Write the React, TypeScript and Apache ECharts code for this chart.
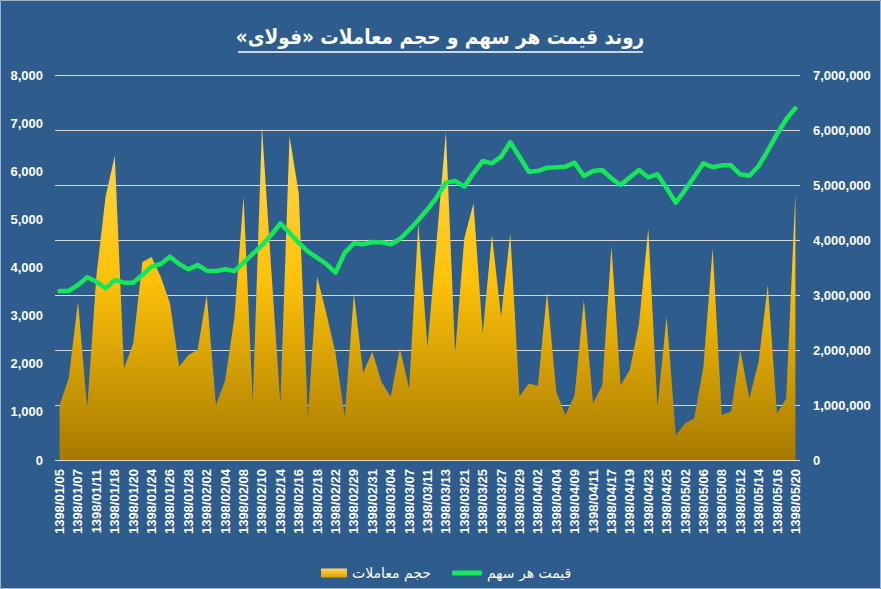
import React, { useEffect, useRef } from "react";
import * as echarts from "echarts";

const dates: string[] = [
  "1398/01/05", "1398/01/06", "1398/01/07", "1398/01/10", "1398/01/11", "1398/01/17", "1398/01/18", "1398/01/19", "1398/01/20", "1398/01/21",
  "1398/01/24", "1398/01/25", "1398/01/26", "1398/01/27", "1398/01/28", "1398/01/31", "1398/02/02", "1398/02/03", "1398/02/04", "1398/02/07",
  "1398/02/08", "1398/02/09", "1398/02/10", "1398/02/11", "1398/02/14", "1398/02/15", "1398/02/16", "1398/02/17", "1398/02/18", "1398/02/21",
  "1398/02/22", "1398/02/28", "1398/02/29", "1398/02/30", "1398/02/31", "1398/03/01", "1398/03/04", "1398/03/05", "1398/03/07", "1398/03/08",
  "1398/03/11", "1398/03/12", "1398/03/13", "1398/03/18", "1398/03/21", "1398/03/22", "1398/03/25", "1398/03/26", "1398/03/27", "1398/03/28",
  "1398/03/29", "1398/04/01", "1398/04/02", "1398/04/03", "1398/04/04", "1398/04/08", "1398/04/09", "1398/04/10", "1398/04/11", "1398/04/15",
  "1398/04/17", "1398/04/18", "1398/04/19", "1398/04/22", "1398/04/23", "1398/04/24", "1398/04/25", "1398/04/29", "1398/05/02", "1398/05/05",
  "1398/05/06", "1398/05/07", "1398/05/08", "1398/05/09", "1398/05/12", "1398/05/13", "1398/05/14", "1398/05/15", "1398/05/16", "1398/05/19",
  "1398/05/20",
];

// price per share (left axis)
const price: number[] = [
  3512, 3512, 3637, 3796, 3706, 3567, 3740, 3685, 3685, 3844,
  4017, 4073, 4225, 4073, 3962, 4052, 3934, 3927, 3962, 3927,
  4100, 4281, 4461, 4675, 4918, 4724, 4516, 4329, 4204, 4073,
  3895, 4308, 4503, 4482, 4530, 4524, 4482, 4592, 4779, 4987,
  5209, 5459, 5763, 5798, 5680, 5957, 6213, 6165, 6303, 6601,
  6303, 5991, 6005, 6074, 6082, 6095, 6178, 5901, 6005, 6026,
  5853, 5715, 5874, 6026, 5874, 5936, 5645, 5347, 5611, 5887,
  6165, 6082, 6123, 6123, 5936, 5908, 6109, 6428, 6774, 7080,
  7308,
];

// trading volume (right axis)
const volume: number[] = [
  1000000, 1490000, 2880000, 940000, 3350000, 4790000, 5530000, 1670000, 2120000, 3600000,
  3690000, 3330000, 2850000, 1700000, 1910000, 2000000, 3000000, 1000000, 1450000, 2580000,
  4790000, 1060000, 6060000, 3500000, 1030000, 5890000, 4850000, 790000, 3330000, 2670000,
  1940000, 790000, 3030000, 1580000, 1970000, 1420000, 1150000, 2030000, 1300000, 4300000,
  2060000, 4000000, 5970000, 1940000, 4030000, 4670000, 2300000, 4090000, 2610000, 4120000,
  1150000, 1390000, 1350000, 3060000, 1240000, 820000, 1180000, 2910000, 1030000, 1360000,
  3880000, 1360000, 1640000, 2480000, 4210000, 970000, 2610000, 450000, 670000, 760000,
  1700000, 3850000, 820000, 880000, 2000000, 1120000, 1790000, 3180000, 850000, 1120000,
  4850000,
];

const titleText = "روند قیمت هر سهم و حجم معاملات «فولای»";
const volumeName = "حجم معاملات";
const priceName = "قیمت هر سهم";

export default function App() {
  const ref = useRef<HTMLDivElement>(null);

  useEffect(() => {
    if (!ref.current) return;
    const chart = echarts.init(ref.current, undefined, { renderer: "svg" });
    const fmt = (v: number) => v.toLocaleString("en-US");
    const areaGrad = new echarts.graphic.LinearGradient(0, 0, 0, 1, [
      { offset: 0, color: "#FFD84F" },
      { offset: 0.45, color: "#FFC20A" },
      { offset: 1, color: "#A67A00" },
    ]);
    const legendGrad = new echarts.graphic.LinearGradient(0, 0, 0, 1, [
      { offset: 0, color: "#FFD84F" },
      { offset: 1, color: "#D9A000" },
    ]);
    const numFont = "Liberation Sans";
    chart.setOption({
      animation: false,
      backgroundColor: "#2E5C8C",
      grid: { left: 55, right: 81, top: 75, bottom: 129, containLabel: false },
      graphic: [
        {
          type: "rect",
          shape: { x: 0.5, y: 0.5, width: 880, height: 588 },
          style: { fill: "none", stroke: "#9FB3C9", lineWidth: 1 },
          silent: true,
        },
        {
          type: "text",
          x: 440,
          y: 37,
          style: {
            text: "\u202B" + titleText + "\u202C",
            fill: "#FFFFFF",
            font: 'bold 20.5px "DejaVu Sans Condensed", "DejaVu Sans"',
            align: "center",
            verticalAlign: "middle",
          },
        },
        {
          type: "line",
          shape: { x1: 238, y1: 52, x2: 643, y2: 52 },
          style: { stroke: "#FFFFFF", lineWidth: 1.5 },
        },
      ],
      legend: [
        {
          data: [{ name: volumeName, icon: "rect", itemStyle: { color: legendGrad } }],
          left: 316,
          top: 561,
          itemWidth: 26,
          itemHeight: 9,
          textStyle: { color: "#FFFFFF", fontSize: 14, fontFamily: "DejaVu Sans" },
          selectedMode: false,
        },
        {
          data: [{ name: priceName, icon: "roundRect" }],
          left: 447,
          top: 561,
          itemWidth: 30,
          itemHeight: 5,
          textStyle: { color: "#FFFFFF", fontSize: 14, fontFamily: "DejaVu Sans" },
          selectedMode: false,
        },
      ],
      xAxis: {
        type: "category",
        data: dates,
        boundaryGap: true,
        axisLine: { show: false },
        axisTick: { show: false },
        axisLabel: {
          interval: 1,
          rotate: 90,
          color: "#FFFFFF",
          fontWeight: "bold",
          fontSize: 13,
          fontFamily: numFont,
          margin: 9,
        },
        splitLine: { show: false },
      },
      yAxis: [
        {
          type: "value",
          min: 0,
          max: 8000,
          interval: 1000,
          axisLine: { show: false },
          axisTick: { show: false },
          splitLine: { show: false },
          axisLabel: {
            color: "#FFFFFF",
            fontWeight: "bold",
            fontSize: 13,
            fontFamily: numFont,
            margin: 12,
            formatter: fmt,
          },
        },
        {
          type: "value",
          min: 0,
          max: 7000000,
          interval: 1000000,
          position: "right",
          axisLine: { show: false },
          axisTick: { show: false },
          splitLine: { show: true, lineStyle: { color: "#D9D9D9", width: 1 } },
          axisLabel: {
            color: "#FFFFFF",
            fontWeight: "bold",
            fontSize: 13,
            fontFamily: numFont,
            margin: 13,
            formatter: fmt,
          },
        },
      ],
      series: [
        {
          name: volumeName,
          type: "line",
          yAxisIndex: 1,
          data: volume,
          showSymbol: false,
          symbol: "none",
          lineStyle: { width: 0 },
          itemStyle: { color: "#FFC20A" },
          areaStyle: { color: areaGrad, opacity: 1 },
          z: 1,
        },
        {
          name: priceName,
          type: "line",
          yAxisIndex: 0,
          data: price,
          showSymbol: false,
          symbol: "none",
          itemStyle: { color: "#14E85A" },
          lineStyle: { color: "#14E85A", width: 4.5, cap: "round", join: "round" },
          z: 3,
        },
      ],
    });
    return () => chart.dispose();
  }, []);

  return (
    <div
      ref={ref}
      style={{ position: "fixed", left: 0, top: 0, width: 881, height: 589 }}
    />
  );
}
